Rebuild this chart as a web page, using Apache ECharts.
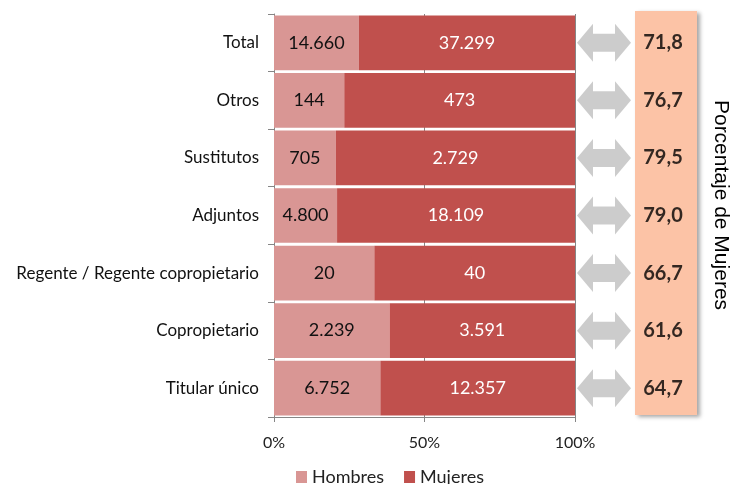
<!DOCTYPE html>
<html>
<head>
<meta charset="utf-8">
<script src="https://cdn.jsdelivr.net/npm/echarts@6/dist/echarts.min.js"></script>
<style>
  html, body { margin: 0; padding: 0; background: #fff; }
  #main { width: 741px; height: 484px; }
</style>
</head>
<body>
<div id="main"></div>
<script>
// datos (de arriba hacia abajo)
var categorias = ['Total', 'Otros', 'Sustitutos', 'Adjuntos', 'Regente / Regente copropietario', 'Copropietario', 'Titular único'];
var hombres = [14660, 144, 705, 4800, 20, 2239, 6752];
var mujeres = [37299, 473, 2729, 18109, 40, 3591, 12357];
var porcentajeMujeres = ['71,8', '76,7', '79,5', '79,0', '66,7', '61,6', '64,7'];
var ticksX = [0, 50, 100];

function fmt(n) {
  return String(n).replace(/\B(?=(\d{3})+(?!\d))/g, '.');
}

var pctH = hombres.map(function (h, i) { return h / (h + mujeres[i]) * 100; });
var pctM = mujeres.map(function (m, i) { return m / (hombres[i] + m) * 100; });

var FONT = 'Lato';
var flecha = 'path://M0,19 L16,0 L16,10 L38,10 L38,0 L54,19 L38,38 L38,28 L16,28 L16,38 Z';

var myChart = echarts.init(document.getElementById('main'));

myChart.setOption({
  animation: false,
  textStyle: { fontFamily: FONT },
  legend: {
    data: ['Hombres', 'Mujeres'],
    left: 291,
    top: 463,
    itemWidth: 11,
    itemHeight: 12,
    itemGap: 20,
    icon: 'rect',
    textStyle: { fontSize: 18, color: '#222', fontFamily: FONT }
  },
  grid: [
    { left: 274, right: 166, top: 14, bottom: 67 },
    { left: 577, width: 120, top: 14, bottom: 67 }
  ],
  xAxis: [
    {
      gridIndex: 0,
      type: 'value',
      min: ticksX[0],
      max: ticksX[ticksX.length - 1],
      interval: 50,
      axisLine: { show: true, lineStyle: { color: '#868686' } },
      axisTick: { show: true, length: 5, lineStyle: { color: '#868686' } },
      axisLabel: { formatter: '{value}%', fontSize: 16, color: '#222', margin: 18 },
      splitLine: { show: true, lineStyle: { color: '#868686' } }
    },
    { gridIndex: 1, type: 'value', min: 0, max: 120, show: false }
  ],
  yAxis: [
    {
      gridIndex: 0,
      type: 'category',
      inverse: true,
      data: categorias,
      axisLine: { show: true, lineStyle: { color: '#868686' } },
      axisTick: { show: true, length: 6, lineStyle: { color: '#868686' } },
      axisLabel: { fontSize: 17, color: '#111', margin: 15 }
    },
    { gridIndex: 1, type: 'category', inverse: true, data: categorias, show: false }
  ],
  graphic: [
    {
      type: 'rect',
      z: -1,
      shape: { x: 635, y: 11, width: 62, height: 404 },
      style: {
        fill: '#FCC3A6',
        shadowBlur: 4,
        shadowOffsetX: 3,
        shadowOffsetY: 2,
        shadowColor: 'rgba(0,0,0,0.35)'
      }
    },
    {
      type: 'text',
      x: 721,
      y: 205,
      rotation: -Math.PI / 2,
      style: {
        text: 'Porcentaje de Mujeres',
        fontSize: 21,
        fontFamily: 'Liberation Sans',
        fill: '#000',
        textAlign: 'center',
        textVerticalAlign: 'middle'
      }
    }
  ],
  series: [
    {
      name: 'Hombres',
      type: 'bar',
      stack: 'total',
      barCategoryGap: '5%',
      itemStyle: { color: '#D99694' },
      label: {
        show: true,
        position: 'inside',
        fontSize: 18,
        color: '#111',
        formatter: function (p) { return fmt(hombres[p.dataIndex]); }
      },
      data: pctH
    },
    {
      name: 'Mujeres',
      type: 'bar',
      stack: 'total',
      barCategoryGap: '5%',
      itemStyle: { color: '#C0504D' },
      label: {
        show: true,
        position: 'inside',
        fontSize: 18,
        color: '#fff',
        formatter: function (p) { return fmt(mujeres[p.dataIndex]); }
      },
      data: pctM
    },
    {
      name: 'flechas',
      type: 'scatter',
      xAxisIndex: 1,
      yAxisIndex: 1,
      symbol: flecha,
      symbolSize: [54, 38],
      itemStyle: { color: '#BFBFBF' },
      silent: true,
      data: categorias.map(function (c) { return [27, c]; })
    },
    {
      name: 'porcentaje',
      type: 'scatter',
      xAxisIndex: 1,
      yAxisIndex: 1,
      symbolSize: 1,
      itemStyle: { color: 'rgba(0,0,0,0)' },
      silent: true,
      label: {
        show: true,
        position: 'inside',
        fontSize: 20,
        fontWeight: 'bold',
        color: '#000',
        formatter: function (p) { return porcentajeMujeres[p.dataIndex]; }
      },
      data: categorias.map(function (c) { return [86, c]; })
    }
  ]
});
</script>
</body>
</html>
